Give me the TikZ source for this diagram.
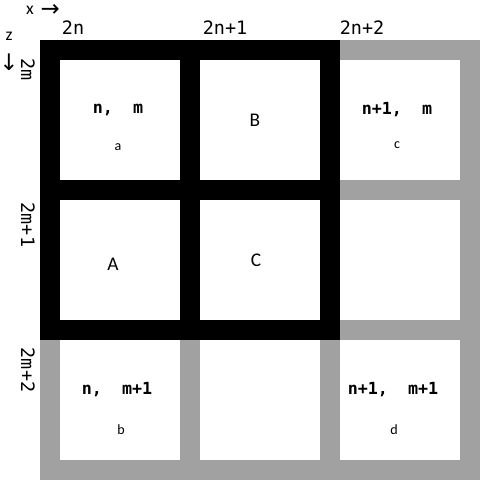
\documentclass[tikz,border=0pt]{standalone}
\usepackage{fontspec}
\setmainfont{Carlito}
\setmonofont{DejaVu Sans Mono}
\newfontfamily\symfont{DejaVu Sans}
\usetikzlibrary{positioning}

\begin{document}
\begin{tikzpicture}[
  x=0.4cm, y=-0.4cm,
  cell/.style={rectangle, fill=white, inner sep=0pt, minimum size=2.4cm},
  idx/.style={font=\ttfamily\bfseries\fontsize{9.5}{9.5}\selectfont, inner sep=0pt},
  tag/.style={font=\fontsize{8}{8}\selectfont, inner sep=0pt},
  big/.style={font=\fontsize{11}{11}\selectfont, inner sep=0pt},
  axis/.style={font=\ttfamily\fontsize{10.5}{10.5}\selectfont, inner sep=0pt},
  sym/.style={font=\symfont\fontsize{13}{13}\selectfont, inner sep=0pt}
]
\useasboundingbox (0,0) rectangle (24,24);
% grid frame
\fill[black!37] (2,2) rectangle (24,24);
\fill[black] (2,2) rectangle (17,17);
% cells
\node[cell] (c11) at (6,6) {};
\node[cell] (c21) at (13,6) {};
\node[cell] (c31) at (20,6) {};
\node[cell] (c12) at (6,13) {};
\node[cell] (c22) at (13,13) {};
\node[cell] (c32) at (20,13) {};
\node[cell] (c13) at (6,20) {};
\node[cell] (c23) at (13,20) {};
\node[cell] (c33) at (20,20) {};
% cell texts
\node[idx] (ia) at (5.9,5.5) {n,~~m};
\node[tag] (ta) at (5.9,7.35) {a};
\node[big] (tB) at (12.75,6) {B};
\node[big] (tA) at (5.65,13.2) {A};
\node[big] (tC) at (12.8,13) {C};
\node[idx] (ic) at (19.85,5.5) {n+1,~~m};
\node[tag] (tc) at (19.85,7.25) {c};
\node[idx] (ib) at (5.85,19.5) {n,~~m+1};
\node[tag] (tb) at (6.05,21.5) {b};
\node[idx] (id) at (19.65,19.5) {n+1,~~m+1};
\node[tag] (td) at (19.7,21.5) {d};
% axes
\node[inner sep=0pt, font=\fontsize{10}{10}\selectfont] (xl) at (1.5,0.5) {x};
\node[sym, right=0.12cm of xl] (xa) {→};
\node[inner sep=0pt, font=\fontsize{10}{10}\selectfont] (zl) at (0.45,1.8) {z};
\node[sym] (za) at (0.45,3.1) {↓};
\node[axis] (n0) at (3.65,1.4) {2n};
\node[axis] (n1) at (11.25,1.4) {2n+1};
\node[axis] (n2) at (18.1,1.4) {2n+2};
\node[axis, rotate=-90] (m0) at (1.4,3.5) {2m};
\node[axis, rotate=-90] (m1) at (1.4,11.25) {2m+1};
\node[axis, rotate=-90] (m2) at (1.4,18.5) {2m+2};
\end{tikzpicture}
\end{document}
